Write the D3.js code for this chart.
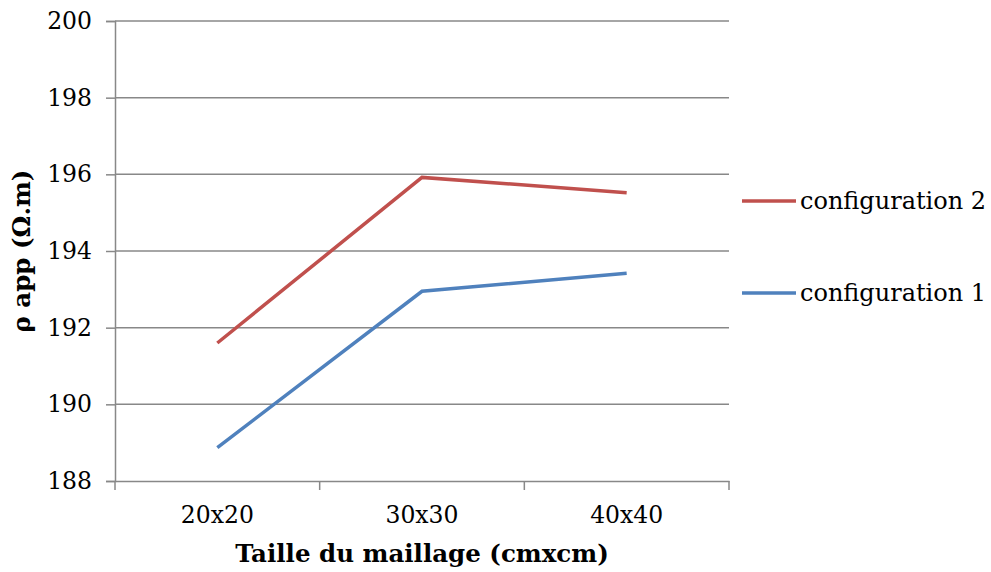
<!DOCTYPE html>
<html>
<head>
<meta charset="utf-8">
<script src="https://cdn.jsdelivr.net/npm/d3@7"></script>
<style>
  body { margin: 0; background: #fff; }
  text { font-family: "DejaVu Serif", serif; fill: #000; }
</style>
</head>
<body>
<svg id="svg1" width="991" height="572"></svg>
<script>
var categories = ['20x20', '30x30', '40x40'];
var config1 = [188.87, 192.95, 193.42];
var config2 = [191.6, 195.92, 195.52];
var yTicks = [188, 190, 192, 194, 196, 198, 200];
var seriesNames = ['configuration 2', 'configuration 1'];
var seriesColors = ['#C0504D', '#4F81BD'];

var svg = d3.select('#svg1');
var plotLeft = 115, plotRight = 729, plotTop = 21, plotBottom = 481;

var x = d3.scaleBand().domain(categories).range([plotLeft, plotRight]);
var y = d3.scaleLinear().domain([188, 200]).range([plotBottom, plotTop]);

// gridlines
svg.append('g').selectAll('line').data(yTicks.slice(1)).enter().append('line')
    .attr('x1', plotLeft).attr('x2', plotRight)
    .attr('y1', function (d) { return y(d); })
    .attr('y2', function (d) { return y(d); })
    .attr('stroke', '#888').attr('stroke-width', 1.5);

// y axis
var yAxis = svg.append('g').attr('transform', 'translate(' + plotLeft + ',0)')
    .call(d3.axisLeft(y).tickValues(yTicks).tickSize(9).tickPadding(14).tickFormat(d3.format('d')));
yAxis.select('.domain').attr('stroke', '#888').attr('stroke-width', 1.5);
yAxis.selectAll('.tick line').attr('stroke', '#888').attr('stroke-width', 1.5);
yAxis.selectAll('text').style('font-size', '23.5px').attr('fill', '#000');

// x axis
var xAxis = svg.append('g').attr('transform', 'translate(0,' + plotBottom + ')')
    .call(d3.axisBottom(x).tickSize(0).tickPadding(25));
xAxis.select('.domain').attr('stroke', '#888').attr('stroke-width', 1.5);
xAxis.selectAll('text').style('font-size', '23.5px').attr('fill', '#000');
var xTickPos = [plotLeft].concat(categories.map(function (c) { return x(c) + x.bandwidth(); }));
svg.append('g').selectAll('line').data(xTickPos).enter().append('line')
    .attr('x1', function (d) { return d; }).attr('x2', function (d) { return d; })
    .attr('y1', plotBottom).attr('y2', plotBottom + 9)
    .attr('stroke', '#888').attr('stroke-width', 1.5);

// lines
var line = d3.line()
    .x(function (d, i) { return x(categories[i]) + x.bandwidth() / 2; })
    .y(function (d) { return y(d); });
[config2, config1].forEach(function (s, i) {
    svg.append('path').datum(s)
        .attr('d', line)
        .attr('fill', 'none')
        .attr('stroke', seriesColors[i])
        .attr('stroke-width', 3.5);
});

// legend
var legendY = [201, 293];
seriesNames.forEach(function (n, i) {
    svg.append('line').attr('x1', 742).attr('x2', 796)
        .attr('y1', legendY[i]).attr('y2', legendY[i])
        .attr('stroke', seriesColors[i]).attr('stroke-width', 3.5);
    svg.append('text').attr('x', 800).attr('y', legendY[i] + 8)
        .style('font-size', '24px').text(n);
});

// axis titles
svg.append('text').attr('x', (plotLeft + plotRight) / 2).attr('y', 562)
    .attr('text-anchor', 'middle').style('font-size', '24.5px').style('font-weight', 'bold')
    .text('Taille du maillage (cmxcm)');
svg.append('text').attr('transform', 'translate(30,' + (plotTop + plotBottom) / 2 + ') rotate(-90)')
    .attr('text-anchor', 'middle').style('font-size', '24.5px').style('font-weight', 'bold')
    .text('ρ app (Ω.m)');
</script>
</body>
</html>
